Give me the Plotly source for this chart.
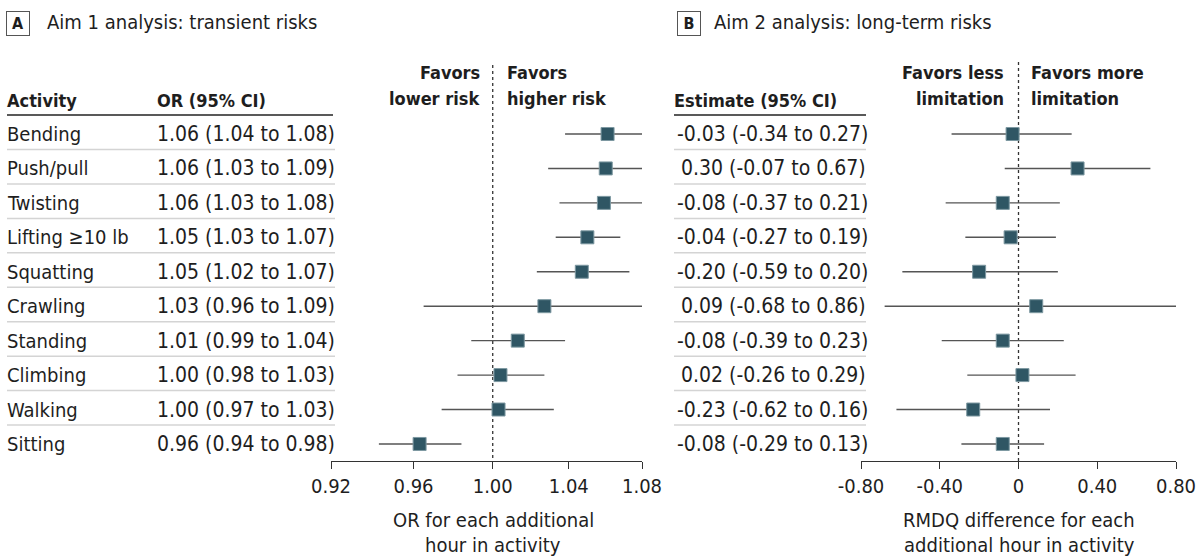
import math
import plotly.graph_objects as go

W, H = 1200, 558

activities = ["Bending", "Push/pull", "Twisting", "Lifting ≥10 lb", "Squatting",
              "Crawling", "Standing", "Climbing", "Walking", "Sitting"]

# Panel A: odds ratios (log scale)
or_est = [1.061, 1.060, 1.059, 1.050, 1.047, 1.027, 1.013, 1.004, 1.003, 0.963]
or_lo = [1.038, 1.029, 1.035, 1.033, 1.023, 0.965, 0.989, 0.982, 0.974, 0.943]
or_hi = [1.084, 1.091, 1.084, 1.068, 1.073, 1.092, 1.038, 1.027, 1.032, 0.984]
or_text = ["1.06 (1.04 to 1.08)", "1.06 (1.03 to 1.09)", "1.06 (1.03 to 1.08)",
           "1.05 (1.03 to 1.07)", "1.05 (1.02 to 1.07)", "1.03 (0.96 to 1.09)",
           "1.01 (0.99 to 1.04)", "1.00 (0.98 to 1.03)", "1.00 (0.97 to 1.03)",
           "0.96 (0.94 to 0.98)"]

# Panel B: RMDQ differences
rm_est = [-0.03, 0.30, -0.08, -0.04, -0.20, 0.09, -0.08, 0.02, -0.23, -0.08]
rm_lo = [-0.34, -0.07, -0.37, -0.27, -0.59, -0.68, -0.39, -0.26, -0.62, -0.29]
rm_hi = [0.27, 0.67, 0.21, 0.19, 0.20, 0.86, 0.23, 0.29, 0.16, 0.13]
rm_text = ["-0.03 (-0.34 to 0.27)", "0.30 (-0.07 to 0.67)", "-0.08 (-0.37 to 0.21)",
           "-0.04 (-0.27 to 0.19)", "-0.20 (-0.59 to 0.20)", "0.09 (-0.68 to 0.86)",
           "-0.08 (-0.39 to 0.23)", "0.02 (-0.26 to 0.29)", "-0.23 (-0.62 to 0.16)",
           "-0.08 (-0.29 to 0.13)"]

or_ticks = [0.92, 0.96, 1.00, 1.04, 1.08]
or_ticktext = ["0.92", "0.96", "1.00", "1.04", "1.08"]
rm_ticks = [-0.8, -0.4, 0, 0.4, 0.8]
rm_ticktext = ["-0.80", "-0.40", "0", "0.40", "0.80"]

FONT = "DejaVu Sans Condensed, Liberation Sans Narrow, sans-serif"
TXT = "#1e1e1e"
FS = 20
FSN = 21     # numeric table columns
FSB = 18     # bold headers
MARK = "#2f5664"
CI = "#555555"

ROW0, STEP = 134.0, 34.44   # pixel y of first row, row spacing
AXIS_PY = 461


def px(x):
    return x / W


def py(y):
    return 1 - y / H


def yrow(pixel):
    return (pixel - ROW0) / STEP


n = len(activities)
rows = list(range(n))

fig = go.Figure()


def ci_trace(lo, hi, xaxis):
    xs, ys = [], []
    for i in rows:
        xs += [lo[i], hi[i], None]
        ys += [i, i, None]
    return go.Scatter(x=xs, y=ys, mode="lines", xaxis=xaxis, yaxis="y",
                      line=dict(color=CI, width=1.4), cliponaxis=False,
                      hoverinfo="skip", showlegend=False)


def pt_trace(est, xaxis):
    return go.Scatter(x=est, y=rows, mode="markers", xaxis=xaxis, yaxis="y",
                      marker=dict(symbol="square", size=13, color=MARK,
                                  line=dict(color="#7d98a1", width=1)),
                      cliponaxis=False, showlegend=False)


# reference lines (dotted)
fig.add_trace(go.Scatter(x=[1, 1], y=[yrow(65), yrow(AXIS_PY)], mode="lines",
                         xaxis="x", yaxis="y", showlegend=False, hoverinfo="skip",
                         line=dict(color="#333333", width=1.3, dash="dot")))
fig.add_trace(go.Scatter(x=[0, 0], y=[yrow(62), yrow(AXIS_PY)], mode="lines",
                         xaxis="x2", yaxis="y", showlegend=False, hoverinfo="skip",
                         line=dict(color="#333333", width=1.3, dash="dot")))

fig.add_trace(ci_trace(or_lo, or_hi, "x"))
fig.add_trace(pt_trace(or_est, "x"))
fig.add_trace(ci_trace(rm_lo, rm_hi, "x2"))
fig.add_trace(pt_trace(rm_est, "x2"))

ann = []
shapes = []


def text(x, y, s, xanchor="left", yref="paper", size=FS, bold=False, **kw):
    if bold:
        s = "<b>" + s + "</b>"
        size = FSB
    # compensate the small internal padding of annotations
    nudge = {"left": -2, "right": 2, "center": 0}[xanchor]
    ann.append(dict(x=x + px(nudge), y=y, xref="paper", yref=yref, text=s,
                    showarrow=False, xanchor=xanchor, yanchor="middle",
                    font=dict(family=FONT, size=size, color=TXT), **kw))


def hline(x0, x1, y, color, width):
    shapes.append(dict(type="line", xref="paper", yref="paper",
                       x0=px(x0), x1=px(x1), y0=py(y), y1=py(y),
                       line=dict(color=color, width=width)))


# Panel labels
for letter, cx, tx, title in [("A", 18, 47, "Aim 1 analysis: transient risks"),
                              ("B", 688.5, 714, "Aim 2 analysis: long-term risks")]:
    ann.append(dict(x=px(cx), y=py(23), xref="paper", yref="paper",
                    text="<b>" + letter + "</b>", showarrow=False,
                    xanchor="center", yanchor="middle", bordercolor="#555555",
                    borderwidth=1, borderpad=2, width=18, height=19,
                    font=dict(family=FONT, size=16, color=TXT)))
    text(px(tx), py(22), title)

# Table A
text(px(7), py(100), "Activity", bold=True)
text(px(157), py(100), "OR (95% CI)", bold=True)
hline(7, 333, 115, "#222222", 1.6)
# Table B
text(px(674), py(100), "Estimate (95% CI)", bold=True)
hline(674, 866, 115, "#222222", 1.6)

for i in rows:
    text(px(7), i, activities[i], yref="y")
    text(px(157), i, or_text[i], yref="y", size=FSN)
    text(px(773), i, rm_text[i], xanchor="center", yref="y", size=FSN)
    if i < n - 1:
        ysep = ROW0 + STEP * (i + 0.45)
        hline(7, 335, ysep, "#d4d4d4", 1.5)
        hline(674, 866, ysep, "#d4d4d4", 1.5)

# Favors labels (one annotation per line)
for xpos, anchor, lines in [(480, "right", ["Favors", "lower risk"]),
                            (507, "left", ["Favors", "higher risk"]),
                            (1004, "right", ["Favors less", "limitation"]),
                            (1031, "left", ["Favors more", "limitation"])]:
    for k, s in enumerate(lines):
        text(px(xpos), py(73 + 25 * k), s, xanchor=anchor, bold=True)

# Axis titles
for xc, lines in [(493, ["OR for each additional", "hour in activity"]),
                  (1019, ["RMDQ difference for each", "additional hour in activity"])]:
    for k, s in enumerate(lines):
        text(px(xc), py(520 + 25 * k), s, xanchor="center")

axis_common = dict(showgrid=False, zeroline=False, showline=True, linecolor="#333333",
                   linewidth=1.3, ticks="outside", ticklen=7, tickwidth=1.3,
                   tickcolor="#333333", anchor="free", position=py(AXIS_PY),
                   automargin=False,
                   tickfont=dict(family=FONT, size=FS, color=TXT), fixedrange=True)

fig.update_layout(
    width=W, height=H,
    margin=dict(l=0, r=0, t=0, b=0, pad=0, autoexpand=False),
    paper_bgcolor="white", plot_bgcolor="white",
    showlegend=False,
    xaxis=dict(type="log", domain=[px(331), px(642)],
               range=[math.log10(0.92), math.log10(1.08)],
               tickvals=or_ticks, ticktext=or_ticktext, **axis_common),
    xaxis2=dict(domain=[px(861), px(1176)], range=[-0.8, 0.8],
                tickvals=rm_ticks, ticktext=rm_ticktext, **axis_common),
    yaxis=dict(domain=[0, 1], range=[yrow(H), yrow(0)], visible=False,
               fixedrange=True, automargin=False),
    annotations=ann,
    shapes=shapes,
    font=dict(family=FONT, size=FS, color=TXT),
)

fig.write_html(
    "out.html",
    config={"displayModeBar": False},
    post_script="document.body.style.margin='0';document.body.style.overflow='hidden';",
)
